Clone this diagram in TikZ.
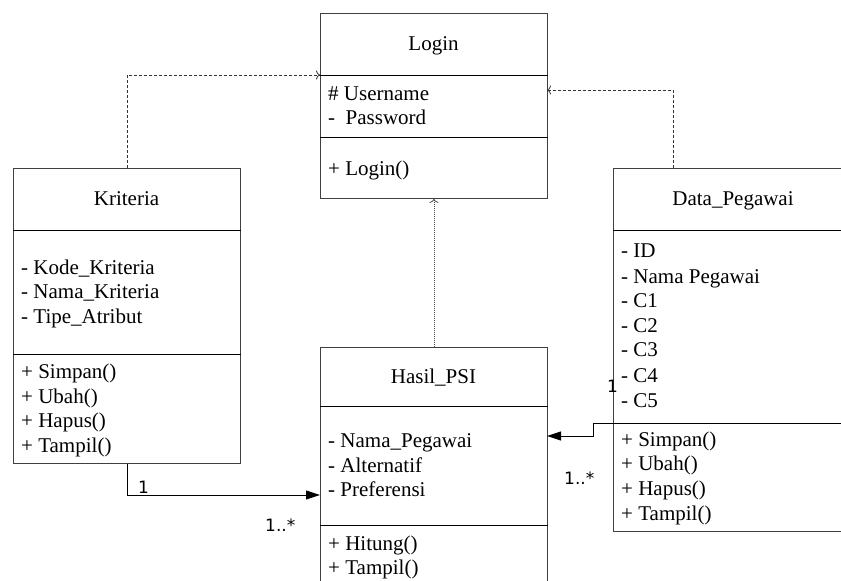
\documentclass[tikz,border=0pt]{standalone}
\usepackage{fontspec}
\setmainfont{Liberation Serif}
\newfontfamily\lblfont{DejaVu Sans}
\usetikzlibrary{arrows.meta}
\begin{document}
\begin{tikzpicture}[x=1pt,y=-1pt,
  cls/.style={draw=black!75, line width=0.9pt, rectangle, inner sep=0pt, anchor=north west},
  divider/.style={draw=black, line width=0.9pt},
  txt/.style={anchor=base west, inner sep=0pt, font=\fontsize{21}{25}\selectfont},
  ttl/.style={anchor=base, inner sep=0pt, font=\fontsize{21}{25}\selectfont},
  mult/.style={anchor=base west, inner sep=0pt, font=\lblfont\fontsize{17}{20}\selectfont},
  dep/.style={draw=black!80, line width=0.8pt, dash pattern=on 3pt off 2pt, -{To[length=4pt,width=9pt]}},
  dotdep/.style={draw=black!70, line width=0.8pt, dash pattern=on 1pt off 1pt, -{To[length=4pt,width=9pt]}},
  assoc/.style={draw=black, line width=0.9pt, -{Triangle[length=14pt,width=9pt]}}
]
\useasboundingbox (0,0) rectangle (841,581);
\clip (0,0) rectangle (841,581);

% class boxes
\node[cls, minimum width=227pt, minimum height=185pt] (login) at (320,13) {};
\node[cls, minimum width=227pt, minimum height=295pt] (krit) at (13,168) {};
\node[cls, minimum width=227pt, minimum height=260pt] (hasil) at (320,347) {};
\node[cls, minimum width=250pt, minimum height=363pt] (dp) at (613,168) {};

% dividers
\coordinate (lgD1) at (320,75);  \coordinate (lgD2) at (320,137);
\coordinate (krD1) at (13,230);  \coordinate (krD2) at (13,354);
\coordinate (hsD1) at (320,406); \coordinate (hsD2) at (320,525);
\coordinate (dpD1) at (613,230); \coordinate (dpD2) at (613,423);
\draw[divider] (lgD1) -- (lgD1 -| login.east);
\draw[divider] (lgD2) -- (lgD2 -| login.east);
\draw[divider] (krD1) -- (krD1 -| krit.east);
\draw[divider] (krD2) -- (krD2 -| krit.east);
\draw[divider] (hsD1) -- (hsD1 -| hasil.east);
\draw[divider] (hsD2) -- (hsD2 -| hasil.east);
\draw[divider] (dpD1) -- (dpD1 -| dp.east);
\draw[divider] (dpD2) -- (dpD2 -| dp.east);

% Login
\node[ttl] (tLogin) at (433.5,50) {Login};
\node[txt] (lg1) at (328,100) {\# Username};
\node[txt] (lg2) at (328,124) {-\ \ Password};
\node[txt] (lg3) at (328,175) {+ Login()};

% Kriteria
\node[ttl] (tKrit) at (126.5,205) {Kriteria};
\node[txt] (kr1) at (21,274) {- Kode\_Kriteria};
\node[txt] (kr2) at (21,298) {- Nama\_Kriteria};
\node[txt] (kr3) at (21,323) {- Tipe\_Atribut};
\node[txt] (kr4) at (21,378) {+ Simpan()};
\node[txt] (kr5) at (21,403) {+ Ubah()};
\node[txt] (kr6) at (21,427) {+ Hapus()};
\node[txt] (kr7) at (21,452) {+ Tampil()};

% Hasil_PSI
\node[ttl] (tHasil) at (433.5,383) {Hasil\_PSI};
\node[txt] (hs1) at (328,447) {- Nama\_Pegawai};
\node[txt] (hs2) at (328,472) {- Alternatif};
\node[txt] (hs3) at (328,496) {- Preferensi};
\node[txt] (hs4) at (328,550) {+ Hitung()};
\node[txt] (hs5) at (328,574) {+ Tampil()};

% Data_Pegawai
\node[ttl] (tDp) at (733,205) {Data\_Pegawai};
\node[txt] (dp1) at (621,257) {- ID};
\node[txt] (dp2) at (621,283) {- Nama Pegawai};
\node[txt] (dp3) at (621,307) {- C1};
\node[txt] (dp4) at (621,332) {- C2};
\node[txt] (dp5) at (621,356) {- C3};
\node[txt] (dp6) at (621,382) {- C4};
\node[txt] (dp7) at (621,407) {- C5};
\node[txt] (dp8) at (621,446) {+ Simpan()};
\node[txt] (dp9) at (621,470) {+ Ubah()};
\node[txt] (dp10) at (621,495) {+ Hapus()};
\node[txt] (dp11) at (621,520) {+ Tampil()};

% connectors
\coordinate (lgIn) at (320,75);
\draw[dep] (krit.north) |- (lgIn);
\coordinate (dpTop) at (673,168);
\coordinate (lgIn2) at (547,90);
\draw[dep] (dpTop) |- (lgIn2);
\draw[dotdep] (hasil.north) -- (login.south);
\coordinate (hsIn) at (320,495);
\draw[assoc] (krit.south) |- (hsIn);
\coordinate (dpOut) at (613,423);
\coordinate (hsIn2) at (547,436);
\draw[assoc] (dpOut) -- ++(-20,0) |- (hsIn2);

% multiplicities
\node[mult] (m1) at (138,493) {1};
\node[mult] (m2) at (265,531) {1..*};
\node[mult] (m3) at (607,392) {1};
\node[mult] (m4) at (564,484) {1..*};
\end{tikzpicture}
\end{document}
